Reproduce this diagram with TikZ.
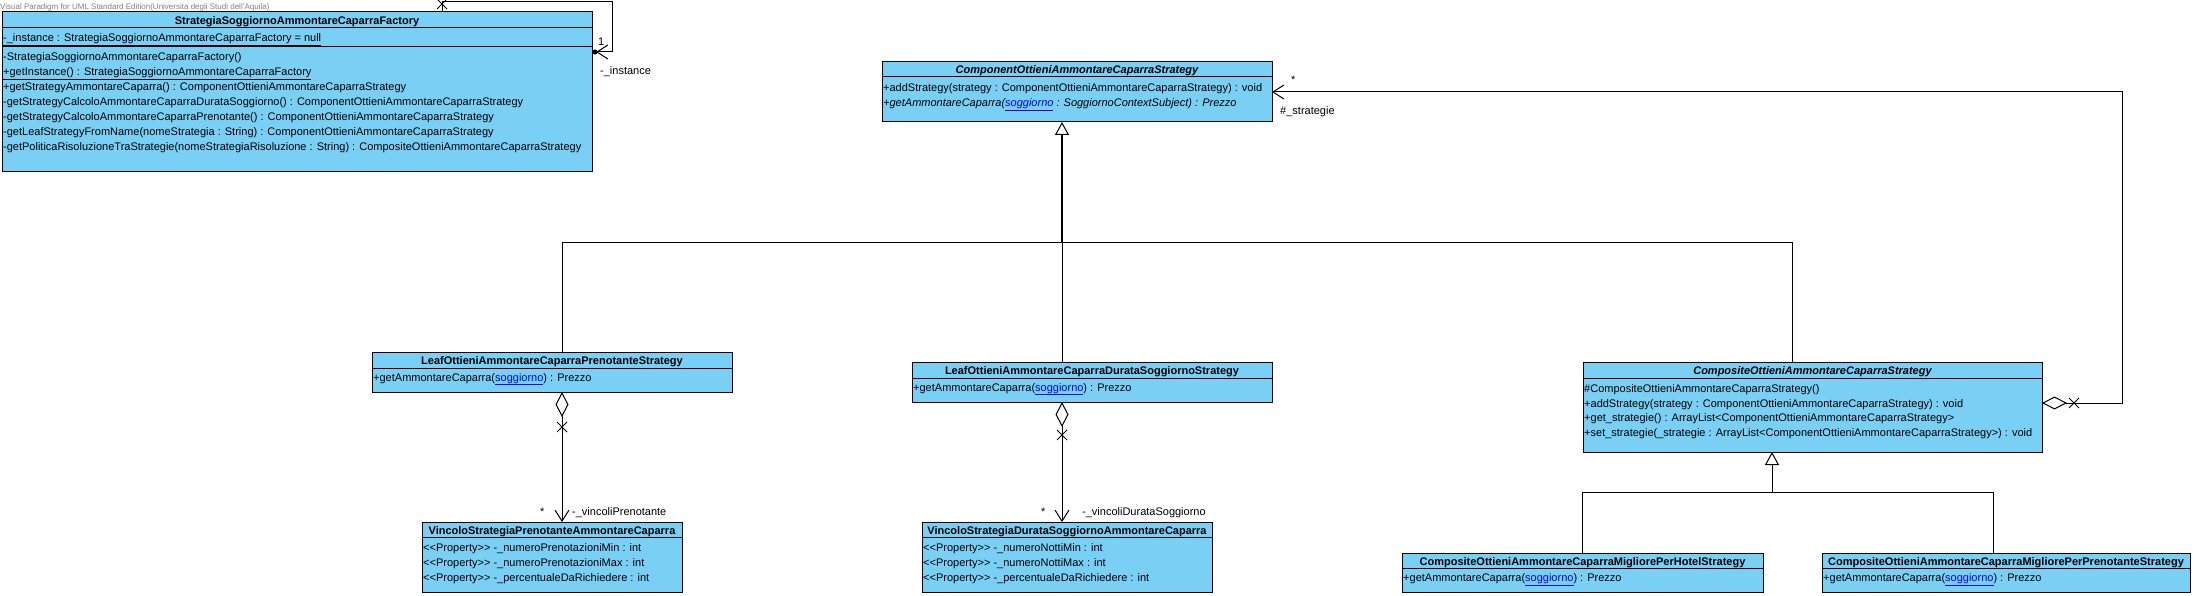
\documentclass[tikz,border=0pt]{standalone}
\usepackage{fontspec}
\setmainfont{Liberation Sans}
\usetikzlibrary{arrows.meta}
\definecolor{clsfill}{RGB}{122,207,245}
\definecolor{linkblue}{RGB}{0,0,255}
\definecolor{wmgray}{RGB}{128,128,128}
\newcommand{\lnk}[1]{\textcolor{linkblue}{\underline{#1}}}
\newcommand{\prop}{<\kern0pt<Property>\kern0pt>}
\begin{document}
\begin{tikzpicture}[x=1pt,y=1pt,
  cls/.style={draw, fill=clsfill, line width=1pt, inner sep=0, outer sep=0, anchor=north west},
  ttl/.style={font=\bfseries\fontsize{11}{13}\selectfont, inner sep=0, anchor=base},
  ittl/.style={font=\bfseries\itshape\fontsize{11}{13}\selectfont, inner sep=0, anchor=base},
  row/.style={font=\fontsize{11}{13}\selectfont, inner sep=0, anchor=base west},
  lbl/.style={font=\fontsize{11}{13}\selectfont, inner sep=0, anchor=base west},
  sepl/.style={line width=1pt},
  conn/.style={line width=1pt},
  nav/.style={-{Straight Barb[length=11pt,width=14pt,line width=1pt]}},
  gen/.style={-{Triangle[open,length=13pt,width=14pt,line width=1pt]}},
  agg/.style={{Diamond[open,length=25pt,width=13pt,line width=1pt]}-{Straight Barb[length=11pt,width=14pt,line width=1pt]}},
  xmark/.style={line width=1pt},
]
\useasboundingbox (0,0) rectangle (2196,-596);
\fill[white] (0,0) rectangle (2196,-596);

\node[font=\fontsize{8}{9}\selectfont, text=wmgray, inner sep=0, anchor=base west] (wmk) at (0,-9.5) {Visual Paradigm for UML Standard Edition(Universita degli Studi dell'Aquila)};

% Factory
\node[cls, minimum width=590pt, minimum height=160pt] (fac) at (2,-12) {};
\draw[sepl] (2,-28) -- (592,-28);
\draw[sepl] (2,-47) -- (592,-47);
\node[ttl] (facT) at (297,-24.5) {StrategiaSoggiornoAmmontareCaparraFactory};
\node[row] (facA) at (3,-41.5) {\underline{-\_instance : StrategiaSoggiornoAmmontareCaparraFactory = null}};
\node[row] (facR1) at (3,-61) {-StrategiaSoggiornoAmmontareCaparraFactory()};
\node[row] (facR2) at (3,-76) {\underline{+getInstance() : StrategiaSoggiornoAmmontareCaparraFactory}};
\node[row] (facR3) at (3,-91) {+getStrategyAmmontareCaparra() : ComponentOttieniAmmontareCaparraStrategy};
\node[row] (facR4) at (3,-106) {-getStrategyCalcoloAmmontareCaparraDurataSoggiorno() : ComponentOttieniAmmontareCaparraStrategy};
\node[row] (facR5) at (3,-121) {-getStrategyCalcoloAmmontareCaparraPrenotante() : ComponentOttieniAmmontareCaparraStrategy};
\node[row] (facR6) at (3,-136) {-getLeafStrategyFromName(nomeStrategia : String) : ComponentOttieniAmmontareCaparraStrategy};
\node[row] (facR7) at (3,-151) {-getPoliticaRisoluzioneTraStrategie(nomeStrategiaRisoluzione : String) : CompositeOttieniAmmontareCaparraStrategy};

% Component
\node[cls, minimum width=390pt, minimum height=60pt] (cmp) at (882,-62) {};
\draw[sepl] (882,-77) -- (1272,-77);
\node[ittl] (cmpT) at (1077,-74) {ComponentOttieniAmmontareCaparraStrategy};
\node[row] (cmpR1) at (883,-92) {+addStrategy(strategy : ComponentOttieniAmmontareCaparraStrategy) : void};
\node[row] (cmpR2) at (883,-107) {\itshape +getAmmontareCaparra(\lnk{soggiorno} : SoggiornoContextSubject) : Prezzo};

% Leaf 1
\node[cls, minimum width=360pt, minimum height=40pt] (leaf1) at (372,-352) {};
\draw[sepl] (372,-368) -- (732,-368);
\node[ttl] (leaf1T) at (552,-364.5) {LeafOttieniAmmontareCaparraPrenotanteStrategy};
\node[row] (leaf1R1) at (373,-381) {+getAmmontareCaparra(\lnk{soggiorno}) : Prezzo};

% Leaf 2
\node[cls, minimum width=360pt, minimum height=40pt] (leaf2) at (912,-362) {};
\draw[sepl] (912,-378) -- (1272,-378);
\node[ttl] (leaf2T) at (1092,-374.5) {LeafOttieniAmmontareCaparraDurataSoggiornoStrategy};
\node[row] (leaf2R1) at (913,-391) {+getAmmontareCaparra(\lnk{soggiorno}) : Prezzo};

% Composite
\node[cls, minimum width=459pt, minimum height=90pt] (comp) at (1583,-362) {};
\draw[sepl] (1583,-378) -- (2042,-378);
\node[ittl] (compT) at (1812.5,-374.5) {CompositeOttieniAmmontareCaparraStrategy};
\node[row] (compR1) at (1584,-392) {\#CompositeOttieniAmmontareCaparraStrategy()};
\node[row] (compR2) at (1584,-407) {+addStrategy(strategy : ComponentOttieniAmmontareCaparraStrategy) : void};
\node[row] (compR3) at (1584,-421.5) {+get\_strategie() : ArrayList<ComponentOttieniAmmontareCaparraStrategy>};
\node[row] (compR4) at (1584,-436) {+set\_strategie(\_strategie : ArrayList<ComponentOttieniAmmontareCaparraStrategy>) : void};

% Vincolo 1
\node[cls, minimum width=260pt, minimum height=70pt] (vin1) at (422,-522) {};
\draw[sepl] (422,-537) -- (682,-537);
\node[ttl] (vin1T) at (552,-534) {VincoloStrategiaPrenotanteAmmontareCaparra};
\node[row] (vin1R1) at (423,-551) {\prop{} -\_numeroPrenotazioniMin : int};
\node[row] (vin1R2) at (423,-566) {\prop{} -\_numeroPrenotazioniMax : int};
\node[row] (vin1R3) at (423,-581) {\prop{} -\_percentualeDaRichiedere : int};

% Vincolo 2
\node[cls, minimum width=290pt, minimum height=70pt] (vin2) at (922,-522) {};
\draw[sepl] (922,-537) -- (1212,-537);
\node[ttl] (vin2T) at (1067,-534) {VincoloStrategiaDurataSoggiornoAmmontareCaparra};
\node[row] (vin2R1) at (923,-551) {\prop{} -\_numeroNottiMin : int};
\node[row] (vin2R2) at (923,-566) {\prop{} -\_numeroNottiMax : int};
\node[row] (vin2R3) at (923,-581) {\prop{} -\_percentualeDaRichiedere : int};

% Bottom composites
\node[cls, minimum width=361pt, minimum height=39pt] (hot) at (1402,-553) {};
\draw[sepl] (1402,-568) -- (1763,-568);
\node[ttl] (hotT) at (1582.5,-565) {CompositeOttieniAmmontareCaparraMigliorePerHotelStrategy};
\node[row] (hotR1) at (1403,-581.5) {+getAmmontareCaparra(\lnk{soggiorno}) : Prezzo};

\node[cls, minimum width=368pt, minimum height=39pt] (pre) at (1822,-553) {};
\draw[sepl] (1822,-568) -- (2190,-568);
\node[ttl] (preT) at (2006,-565) {CompositeOttieniAmmontareCaparraMigliorePerPrenotanteStrategy};
\node[row] (preR1) at (1823,-581.5) {+getAmmontareCaparra(\lnk{soggiorno}) : Prezzo};

% Generalization tree 1
\coordinate (b1L) at (562,-243);
\coordinate (b1M) at (1062,-243);
\coordinate (b1R) at (1792,-243);
\draw[conn] (leaf1.north -| b1L) -- (b1L) -- (b1R) -- (comp.north -| b1R);
\draw[conn] (leaf2.north -| b1M) -- (b1M);
\draw[conn, gen, line width=1.6pt] (b1M) -- (cmp.south -| b1M);

% Generalization tree 2
\coordinate (b2L) at (1582,-492);
\coordinate (b2M) at (1772,-492);
\coordinate (b2R) at (1993,-492);
\draw[conn] (hot.north -| b2L) -- (b2L) -- (b2R) -- (pre.north -| b2R);
\draw[conn, gen] (b2M) -- (comp.south -| b2M);

% Aggregations leaf -> vincolo
\coordinate (a1) at (562,-450);
\draw[conn, agg] (leaf1.south -| a1) -- (vin1.north -| a1);
\coordinate (x1) at (562,-427);
\draw[xmark] (x1) ++(-5,5) -- ++(10,-10) (x1) ++(-5,-5) -- ++(10,10);
\coordinate (a2) at (1062,-450);
\draw[conn, agg] (leaf2.south -| a2) -- (vin2.north -| a2);
\coordinate (x2) at (1062,-435);
\draw[xmark] (x2) ++(-5,5) -- ++(10,-10) (x2) ++(-5,-5) -- ++(10,10);

% Composite -> Component association
\coordinate (c1) at (2122,-403);
\coordinate (c2) at (2122,-92);
\draw[conn, agg] (comp.east |- c1) -- (c1) -- (c2) -- (cmp.east |- c2);
\coordinate (x3) at (2074,-403);
\draw[xmark] (x3) ++(-5,5) -- ++(10,-10) (x3) ++(-5,-5) -- ++(10,10);

% Factory self association
\coordinate (s1) at (442,-2);
\coordinate (s2) at (612,-2);
\coordinate (s3) at (612,-52);
\draw[conn, nav, shorten >=4pt] (fac.north -| s1) -- (s1) -- (s2) -- (s3) -- (fac.east |- s3);
\fill ([xshift=3pt]fac.east |- s3) circle (2.6pt);
\coordinate (x4) at (442,-4);
\draw[xmark] (x4) ++(-5,5) -- ++(10,-10) (x4) ++(-5,-5) -- ++(10,10);

% Labels
\node[lbl] (l1) at (598,-46) {1};
\node[lbl] (l2) at (600,-75) {-\_instance};
\node[lbl] (l3) at (1291,-84) {*};
\node[lbl] (l4) at (1280,-115) {\#\_strategie};
\node[lbl] (l5) at (540,-515) {*};
\node[lbl] (l6) at (572,-515) {-\_vincoliPrenotante};
\node[lbl] (l7) at (1041,-515) {*};
\node[lbl] (l8) at (1082,-515) {-\_vincoliDurataSoggiorno};
\end{tikzpicture}
\end{document}
